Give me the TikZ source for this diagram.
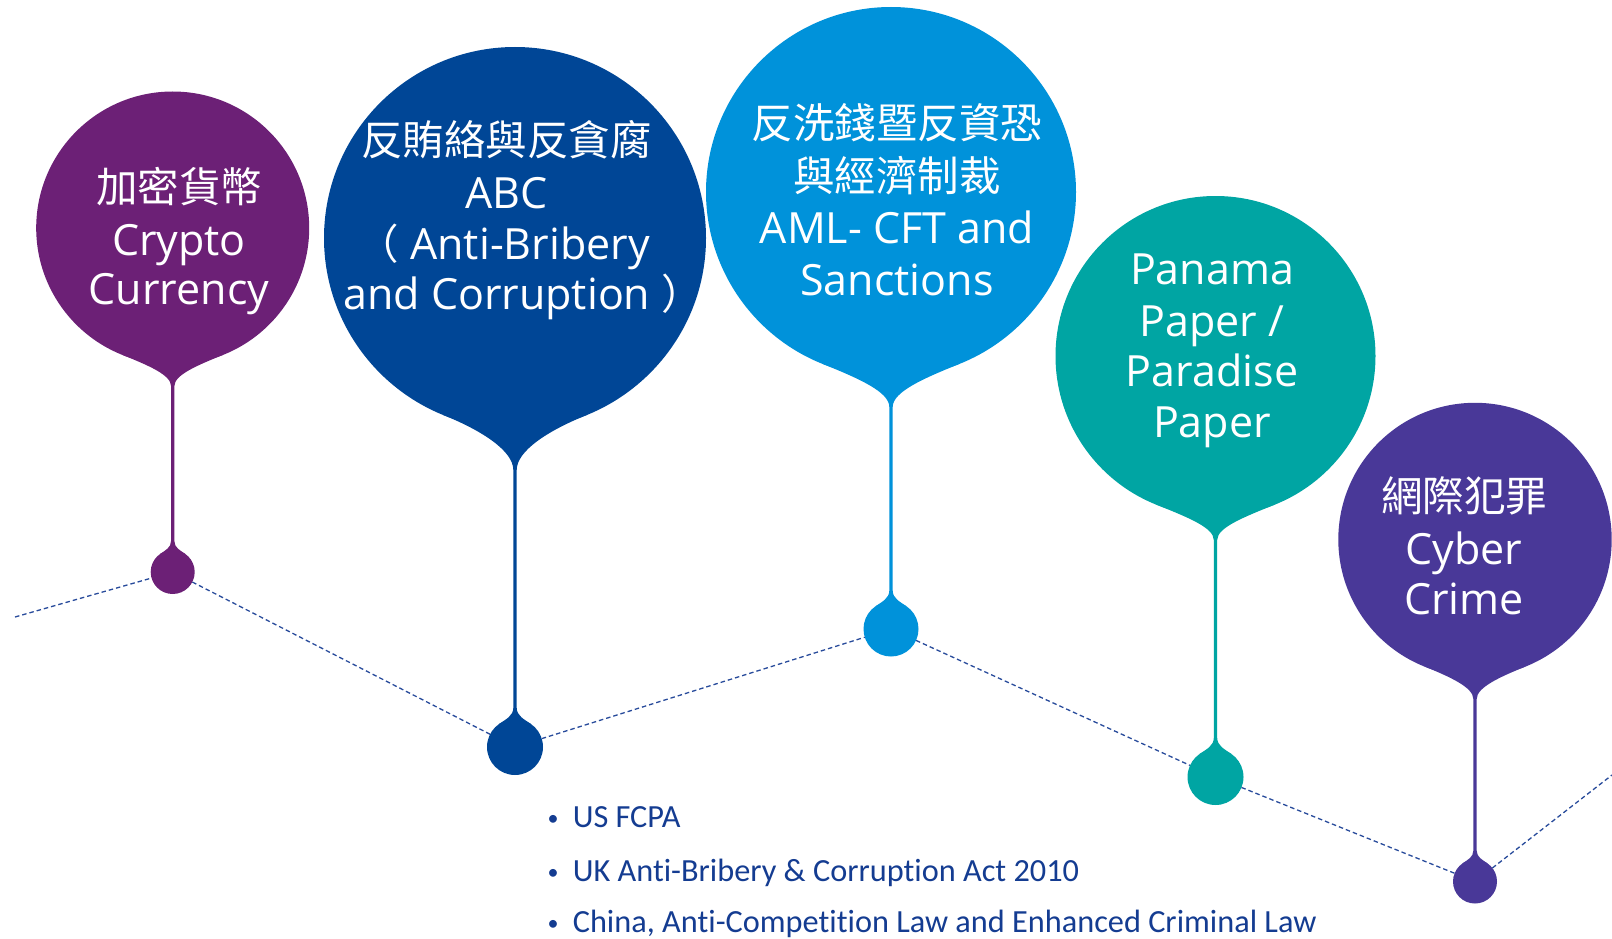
\documentclass[tikz,border=0pt]{standalone}
\usepackage{fontspec}
\setmainfont{Open Sans}
\newfontfamily\cjk{Noto Sans CJK TC}
\newfontfamily\bulletfont[Ligatures={NoCommon}]{Carlito}
\definecolor{pinpurple}{RGB}{108,32,118}
\definecolor{pinnavy}{RGB}{0,70,150}
\definecolor{pinsky}{RGB}{0,146,218}
\definecolor{pinteal}{RGB}{0,165,163}
\definecolor{pinindigo}{RGB}{73,56,152}
\definecolor{dashblue}{RGB}{40,75,155}
\definecolor{bultext}{RGB}{20,60,145}

% #1 circle name, #2 dot name, #3 colour, #4 cx, #5 cy, #6 R, #7 neck end y, #8 dot y, #9 dot r
\newcommand{\pinshape}[9]{%
  \pgfmathsetmacro\pxL{#4-#6*sin(22)}%
  \pgfmathsetmacro\pxR{#4+#6*sin(22)}%
  \pgfmathsetmacro\py{#5+#6*cos(22)}%
  \pgfmathsetmacro\hk{0.55*(#6*sin(22)-1.7)}%
  \pgfmathsetmacro\vk{\hk*tan(22)}%
  \pgfmathsetmacro\cv{#7-0.35*(#7-\py)}%
  \pgfmathsetmacro\yS{#8-1.4*#9}%
  \pgfmathsetmacro\qxL{#4-#9*sin(35)}%
  \pgfmathsetmacro\qxR{#4+#9*sin(35)}%
  \pgfmathsetmacro\qy{#8-#9*cos(35)}%
  \pgfmathsetmacro\dk{0.3*#9}%
  \pgfmathsetmacro\dv{\yS+0.5*(\qy-\yS)}%
  \pgfmathsetmacro\dqx{\dk*cos(35)}%
  \pgfmathsetmacro\dqy{\dk*sin(35)}%
  \fill[#3] (\pxL,\py) .. controls (\pxL+\hk,\py+\vk) and (#4-1.7,\cv) .. (#4-1.7,#7)
    -- (#4-1.7,\yS) .. controls (#4-1.7,\dv) and (\qxL+\dqx,\qy-\dqy) .. (\qxL,\qy)
    -- (\qxR,\qy) .. controls (\qxR-\dqx,\qy-\dqy) and (#4+1.7,\dv) .. (#4+1.7,\yS)
    -- (#4+1.7,#7) .. controls (#4+1.7,\cv) and (\pxR-\hk,\py+\vk) .. (\pxR,\py) -- cycle;
  \node[pinball, fill=#3, minimum size={2*#6pt}] (#1) at (#4,#5) {};
  \node[pinball, fill=#3, minimum size={2*#9pt}] (#2) at (#4,#8) {};
}

\tikzset{
  pinball/.style={circle, inner sep=0pt, outer sep=0pt},
  lat/.style={anchor=base, inner sep=0pt, text=white, font=\fontsize{43}{50}\selectfont},
  han/.style={anchor=base, inner sep=0pt, text=white, font=\cjk\fontsize{41.5}{50}\selectfont},
  bul/.style={anchor=base west, inner sep=0pt, text=bultext, font=\bulletfont\fontsize{32.3}{38}\selectfont},
  bulmark/.style={anchor=base, inner sep=0pt, text=bultext, font=\bulletfont\fontsize{22}{30}\selectfont},
  dotline/.style={draw=dashblue, line width=1.3pt, dash pattern=on 4.5pt off 3pt},
}

\begin{document}
\begin{tikzpicture}[x=1pt,y=-1pt]
\useasboundingbox (0,0) rectangle (1612,939);

\pinshape{p1}{d1}{pinpurple}{172.7}{228}{136.5}{386}{572}{22}
\pinshape{p2}{d2}{pinnavy}{515}{238}{191}{470}{747}{28}
\pinshape{p3}{d3}{pinsky}{891}{192}{185}{407}{629}{27.5}
\pinshape{p4}{d4}{pinteal}{1215.5}{356}{160}{540}{777}{28}
\pinshape{p5}{d5}{pinindigo}{1475}{539.5}{136.7}{699}{881.5}{22}

% dashed path
\coordinate (L0) at (15,617);
\coordinate (R0) at (1612,775);
\draw[dotline] (L0) -- (d1);
\draw[dotline] (d1) -- (d2);
\draw[dotline] (d2) -- (d3);
\draw[dotline] (d3) -- (d4);
\draw[dotline] (d4) -- (d5);
\draw[dotline] (d5) -- (R0);

% pin 1
\node[han] (t1a) at (179,202) {加密貨幣};
\node[lat] (t1b) at (179,255) {Crypto};
\node[lat] (t1c) at (179,304) {Currency};

% pin 2
\node[han] (t2a) at (506.7,156) {反賄絡與反貪腐};
\node[lat] (t2b) at (506.7,208.3) {ABC};
\node[lat, anchor=base east] (t2c) at (650,259.3) {{\cjk\fontsize{41.5}{50}\selectfont （} Anti-Bribery};
\node[lat, anchor=base west] (t2d) at (343,309.3) {and Corruption {\cjk\fontsize{41.5}{50}\selectfont ）}};

% pin 3
\node[han] (t3a) at (897,139) {反洗錢暨反資恐};
\node[han] (t3b) at (897,191) {與經濟制裁};
\node[lat] (t3c) at (897,243.3) {AML- CFT and};
\node[lat] (t3d) at (897,295) {Sanctions};

% pin 4
\node[lat] (t4a) at (1212,284) {Panama};
\node[lat] (t4b) at (1212,336) {Paper /};
\node[lat] (t4c) at (1212,386.7) {Paradise};
\node[lat] (t4d) at (1212,437.3) {Paper};

% pin 5
\node[han] (t5a) at (1464,511) {網際犯罪};
\node[lat] (t5b) at (1464,564) {Cyber};
\node[lat] (t5c) at (1464,614) {Crime};

% bullet list
\node[bulmark] (m1) at (553,825) {•};
\node[bul] (u1) at (572.6,827) {US FCPA};
\node[bulmark] (m2) at (553,879.5) {•};
\node[bul] (u2) at (572.6,881.5) {UK Anti-Bribery \& Corruption Act 2010};
\node[bulmark] (m3) at (553,930) {•};
\node[bul] (u3) at (572.6,932) {China, Anti-Competition Law and Enhanced Criminal Law};
\end{tikzpicture}
\end{document}
